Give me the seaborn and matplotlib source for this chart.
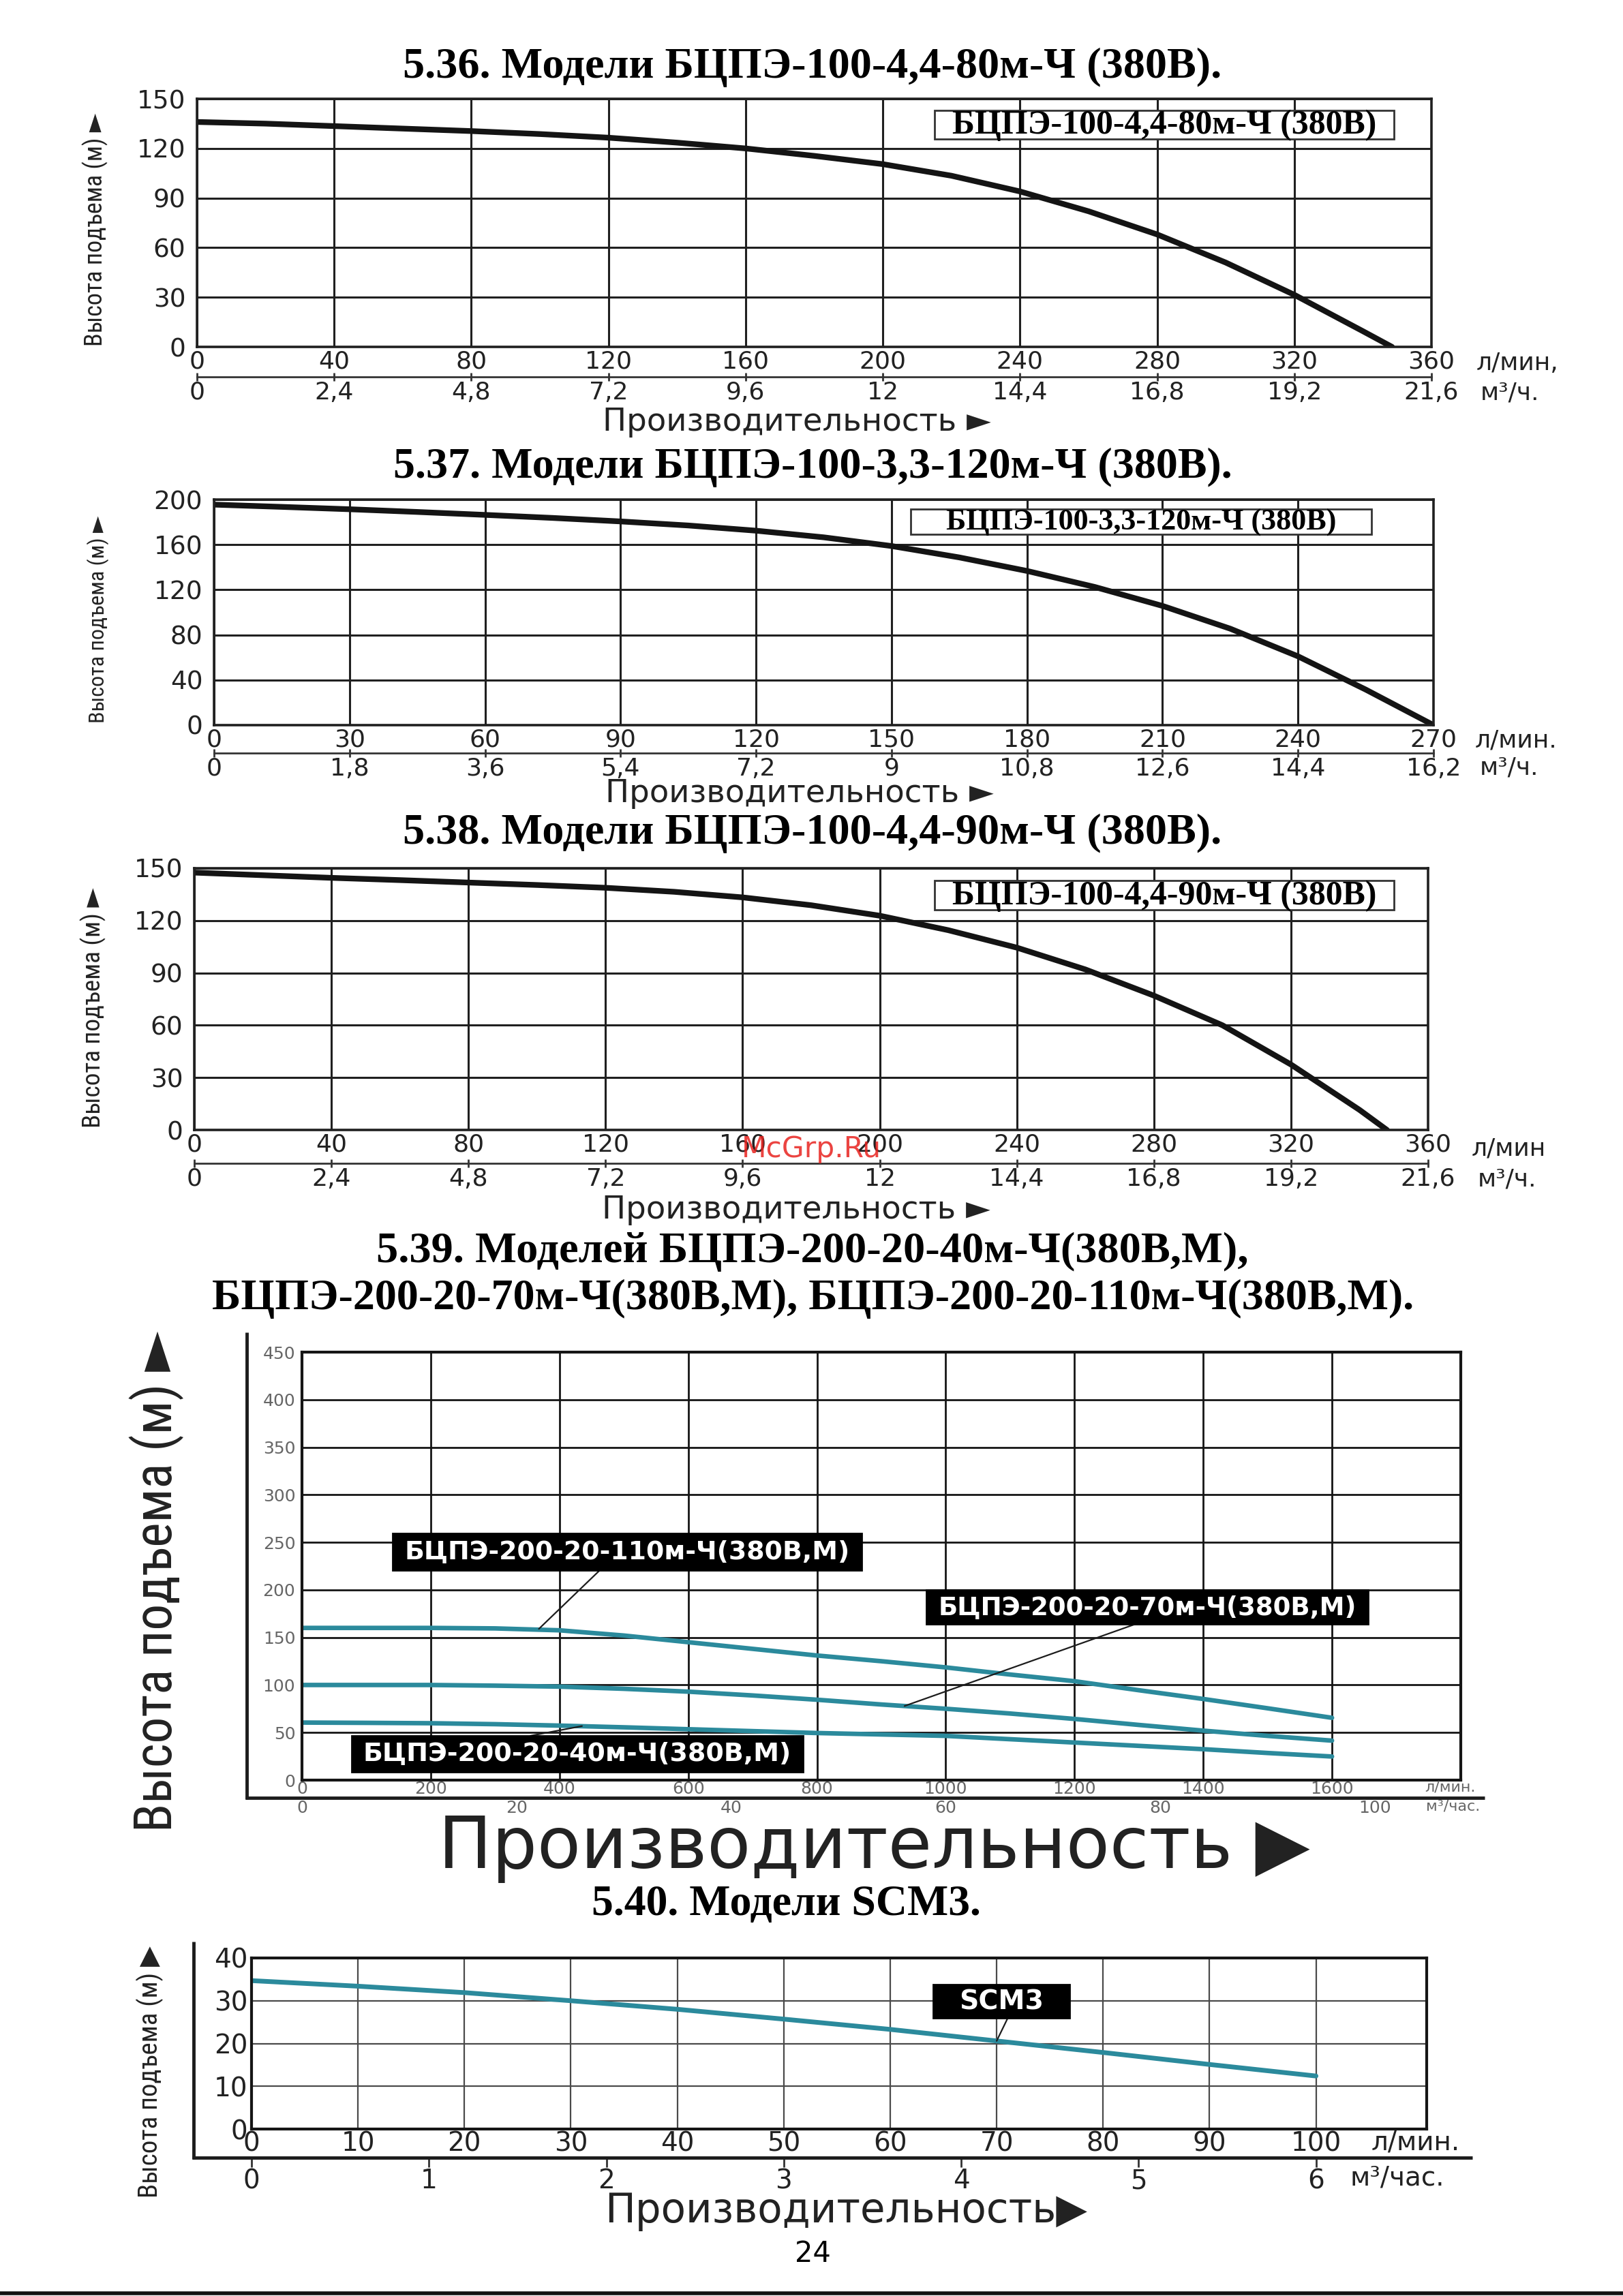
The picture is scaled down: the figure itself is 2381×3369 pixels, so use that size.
"""
Pump head curves page (5.36 - 5.40), recreated with seaborn / matplotlib.
Saves out.png (2381 x 3369 px).
"""

import matplotlib
matplotlib.use("Agg")
import matplotlib.pyplot as plt
from matplotlib import font_manager
from matplotlib.lines import Line2D
from matplotlib.patches import Rectangle
import numpy as np
import pandas as pd
import seaborn as sns

sns.set_theme(style="white")
plt.rcParams["font.family"] = ["DejaVu Sans"]

W, H = 2381, 3369
SERIF = "Liberation Serif"
TEAL = "#2b8a9c"
INK = "#1c1c1c"

# a narrow sans for the rotated axis titles, if one is installed
_entries = font_manager.fontManager.ttflist
_names = {f.name for f in _entries}
NARROW_FAMILY = "DejaVu Sans"
NARROW_STRETCH = "normal"
for _cand in ["Liberation Sans Narrow", "Roboto Condensed", "Open Sans Condensed",
              "Noto Sans Condensed", "DejaVu Sans Condensed"]:
    if _cand in _names:
        NARROW_FAMILY = _cand
        break
else:
    _cond = [f for f in _entries if f.stretch in ("condensed", "semi-condensed", "extra-condensed")
             and f.style == "normal" and f.name in ("Roboto", "Open Sans", "Noto Sans", "DejaVu Sans", "Lato", "Inter")]
    if _cond:
        NARROW_FAMILY = _cond[0].name
        NARROW_STRETCH = _cond[0].stretch
NARROW = [NARROW_FAMILY, "DejaVu Sans"]

# ---------------- data ----------------
# 5.36  БЦПЭ-100-4,4-80м-Ч
flow_536 = [0, 20, 40, 60, 80, 100, 120, 140, 160, 180, 200, 220, 240, 260, 280, 300, 320, 340, 348.5]
head_536 = [136, 135, 133.5, 132, 130.5, 128.7, 126.5, 123.5, 120, 115.5, 110.5, 103.5, 94, 82, 68, 51, 31.5, 9.5, 0]
lpm_ticks_536 = [0, 40, 80, 120, 160, 200, 240, 280, 320, 360]
m3_ticks_536 = [0, 2.4, 4.8, 7.2, 9.6, 12, 14.4, 16.8, 19.2, 21.6]
head_ticks_536 = [0, 30, 60, 90, 120, 150]

# 5.37  БЦПЭ-100-3,3-120м-Ч
flow_537 = [0, 15, 30, 45, 60, 75, 90, 105, 120, 135, 150, 165, 180, 195, 210, 225, 240, 255, 270]
head_537 = [195.5, 193.5, 191.4, 189, 186.4, 183.7, 180.6, 177, 172.4, 166.5, 158.8, 148.7, 136.7, 122.5, 105.7, 85.5, 61, 31.5, 0]
lpm_ticks_537 = [0, 30, 60, 90, 120, 150, 180, 210, 240, 270]
m3_ticks_537 = [0, 1.8, 3.6, 5.4, 7.2, 9, 10.8, 12.6, 14.4, 16.2]
head_ticks_537 = [0, 40, 80, 120, 160, 200]

# 5.38  БЦПЭ-100-4,4-90м-Ч
flow_538 = [0, 20, 40, 60, 80, 100, 120, 140, 160, 180, 200, 220, 240, 260, 280, 300, 320, 340, 348]
head_538 = [147.5, 146, 144.5, 143.2, 141.8, 140.4, 138.8, 136.5, 133.3, 128.8, 122.8, 114.5, 104.5, 92, 77, 60, 37.5, 11.5, 0]
lpm_ticks_538 = [0, 40, 80, 120, 160, 200, 240, 280, 320, 360]
m3_ticks_538 = [0, 2.4, 4.8, 7.2, 9.6, 12, 14.4, 16.8, 19.2, 21.6]
head_ticks_538 = [0, 30, 60, 90, 120, 150]

# 5.39  БЦПЭ-200-20-...
flow_539 = [0, 100, 200, 300, 400, 500, 600, 700, 800, 900, 1000, 1100, 1200, 1300, 1400, 1500, 1600]
head_539_110 = [160, 160, 160, 159.5, 157.5, 152, 145, 138, 131, 125, 118.5, 111, 104, 94.5, 85.3, 75.5, 65.5]
head_539_70 = [100, 100, 100, 99.3, 98.3, 96, 93, 89, 84.5, 79.5, 75, 70, 64.3, 58, 52, 46.5, 41.5]
head_539_40 = [60.5, 60.2, 59.8, 58.8, 57.3, 55.5, 53.5, 51.5, 49.5, 48, 46.5, 43, 39.5, 36, 32.5, 28.5, 24.8]
lpm_ticks_539 = [0, 200, 400, 600, 800, 1000, 1200, 1400, 1600]
m3_ticks_539 = [0, 20, 40, 60, 80, 100]
head_ticks_539 = [0, 50, 100, 150, 200, 250, 300, 350, 400, 450]

# 5.40  SCM3
flow_540 = [0, 10, 20, 30, 40, 50, 60, 70, 80, 90, 100]
head_540 = [34.7, 33.4, 31.9, 30, 28, 25.7, 23.3, 20.6, 17.9, 15.1, 12.4]
lpm_ticks_540 = [0, 10, 20, 30, 40, 50, 60, 70, 80, 90, 100]
m3_ticks_540 = [0, 1, 2, 3, 4, 5, 6]
head_ticks_540 = [0, 10, 20, 30, 40]

fig = plt.figure(figsize=(W / 100, H / 100), dpi=100)
fig.patch.set_facecolor("white")
renderer = fig.canvas.get_renderer()


# ---------------- helpers ----------------
def rect(l, t, r, b):
    return [l / W, 1 - b / H, (r - l) / W, (b - t) / H]


def fx(x):
    return x / W


def fy(y):
    return 1 - y / H


def comma(v):
    return f"{v:g}".replace(".", ",")


def to_m3(v):
    return np.round(np.asarray(v, dtype=float) * 0.06, 9)


def to_lpm(v):
    return np.round(np.asarray(v, dtype=float) / 0.06, 9)


def ftext(x, y, s, **kw):
    kw.setdefault("ha", "center")
    kw.setdefault("va", "center")
    return fig.text(fx(x), fy(y), s, **kw)


def fit(t, width=None, height=None):
    bb = t.get_window_extent(renderer)
    k = []
    if width:
        k.append(width / bb.width)
    if height:
        k.append(height / bb.height)
    t.set_fontsize(t.get_fontsize() * min(k))
    return t


def fline(x1, y1, x2, y2, lw=3.5, color=INK):
    fig.add_artist(Line2D([fx(x1), fx(x2)], [fy(y1), fy(y2)], transform=fig.transFigure,
                          lw=lw, color=color, solid_capstyle="butt"))


def box_label(box, s, fc, tc, family, fill=0.92, ec=None, hfill=1.08):
    l, t, r, b = box
    fig.add_artist(Rectangle((fx(l), fy(b)), (r - l) / W, (b - t) / H, transform=fig.transFigure,
                             fc=fc, ec=ec or fc, lw=2, zorder=5))
    txt = ftext((l + r) / 2, (t + b) / 2 + 1, s, color=tc, family=family, weight="bold",
                fontsize=20, zorder=6)
    fit(txt, width=(r - l) * fill, height=(b - t) * hfill)
    return txt


def leader(ax, x_px, y_px, xd, yd):
    ax.annotate("", xy=(xd, yd), xycoords="data", xytext=(fx(x_px), fy(y_px)),
                textcoords="figure fraction",
                arrowprops=dict(arrowstyle="-", lw=1.6, color=INK, shrinkA=0, shrinkB=0))


def classic_chart(pos, sep_y, flow, head, lpm_ticks, m3_ticks, head_ticks):
    l, t, r, b = pos
    ax = fig.add_axes(rect(l, t, r, b))
    ax.set_axisbelow(True)
    sns.lineplot(x=flow, y=head, ax=ax, color="#141414", linewidth=6)
    ax.set_xlim(lpm_ticks[0], lpm_ticks[-1])
    ax.set_ylim(head_ticks[0], head_ticks[-1])
    ax.set_xticks(lpm_ticks)
    ax.set_yticks(head_ticks)
    ax.set_xlabel("")
    ax.set_ylabel("")
    ax.grid(True, color="#202020", lw=2.2)
    for sp in ax.spines.values():
        sp.set_visible(True)
        sp.set_color("#202020")
        sp.set_linewidth(2.6)
    ax.tick_params(axis="x", length=0, labelsize=26, pad=3, labelcolor="#222")
    ax.tick_params(axis="y", length=0, labelsize=27, pad=12, labelcolor="#222")
    sec = ax.secondary_xaxis(-(sep_y - b) / (b - t), functions=(to_m3, to_lpm))
    sec.set_xticks(m3_ticks, labels=[comma(v) for v in m3_ticks])
    sec.spines["bottom"].set_linewidth(2)
    sec.spines["bottom"].set_color("#333")
    sec.tick_params(direction="inout", length=8, width=2, labelsize=26, pad=0,
                    color="#333", labelcolor="#222")
    return ax


def head_label(x, y, length, s="Высота подъема (м) ►"):
    t = ftext(x, y, s, rotation=90, fontsize=20, color="#222", family=NARROW,
              fontstretch=NARROW_STRETCH)
    fit(t, height=length)
    return t


def flow_label(x, y, width, s="Производительность ►", height=None):
    t = ftext(x, y, s, fontsize=20, color="#222")
    fit(t, width=width, height=height)
    return t


def title(x, y, width, s):
    t = ftext(x, y, s, family=SERIF, weight="bold", fontsize=30, color="black")
    fit(t, width=width)
    return t


# ---------------- 5.36 ----------------
title(1192, 99, 1200, "5.36. Модели БЦПЭ-100-4,4-80м-Ч (380В).")
ax1 = classic_chart((289, 145, 2100, 509), 553, flow_536, head_536,
                    lpm_ticks_536, m3_ticks_536, head_ticks_536)
head_label(140, 337, 342)
flow_label(1169, 620, 653, height=47)
ftext(2166, 533, "л/мин,", ha="left", fontsize=26, color="#222")
ftext(2172, 577, "м³/ч.", ha="left", fontsize=26, color="#222")
box_label((1371, 162, 2045, 204), "БЦПЭ-100-4,4-80м-Ч (380В)", "white", "black", SERIF, ec="#333")

# ---------------- 5.37 ----------------
title(1192, 686, 1230, "5.37. Модели БЦПЭ-100-3,3-120м-Ч (380В).")
ax2 = classic_chart((314, 733, 2103, 1064), 1105, flow_537, head_537,
                    lpm_ticks_537, m3_ticks_537, head_ticks_537)
head_label(144, 909, 304)
flow_label(1173, 1165, 660, height=47)
ftext(2164, 1087, "л/мин.", ha="left", fontsize=26, color="#222")
ftext(2171, 1127, "м³/ч.", ha="left", fontsize=26, color="#222")
box_label((1336, 747, 2012, 784), "БЦПЭ-100-3,3-120м-Ч (380В)", "white", "black", SERIF, ec="#333")

# ---------------- 5.38 ----------------
title(1192, 1223, 1200, "5.38. Модели БЦПЭ-100-4,4-90м-Ч (380В).")
ax3 = classic_chart((285, 1274, 2095, 1658), 1707, flow_538, head_538,
                    lpm_ticks_538, m3_ticks_538, head_ticks_538)
head_label(137, 1479, 352)
flow_label(1168, 1775, 656, height=47)
ftext(2159, 1686, "л/мин", ha="left", fontsize=26, color="#222")
ftext(2168, 1730, "м³/ч.", ha="left", fontsize=26, color="#222")
box_label((1371, 1292, 2045, 1335), "БЦПЭ-100-4,4-90м-Ч (380В)", "white", "black", SERIF, ec="#333")
# site watermark printed over the tick labels in the scan
wm = ftext(1190, 1686, "McGrp.Ru", color="#e8231f", alpha=0.85, fontsize=20, zorder=7)
fit(wm, width=205)

# ---------------- 5.39 ----------------
title(1192, 1837, 1277, "5.39. Моделей БЦПЭ-200-20-40м-Ч(380В,М),")
title(1193, 1906, 1762, "БЦПЭ-200-20-70м-Ч(380В,М), БЦПЭ-200-20-110м-Ч(380В,М).")

fline(362, 1955, 362, 2640)
fline(360, 2638, 2178, 2638)

ax4 = fig.add_axes(rect(443, 1984, 2143, 2612))
ax4.set_axisbelow(True)
n = len(flow_539)
df_539 = pd.DataFrame({
    "flow": flow_539 * 3,
    "head": head_539_110 + head_539_70 + head_539_40,
    "model": ["110м"] * n + ["70м"] * n + ["40м"] * n,
})
sns.lineplot(data=df_539, x="flow", y="head", hue="model", palette=[TEAL] * 3,
             linewidth=4.8, legend=False, ax=ax4)
ax4.set_xlim(0, 1800)
ax4.set_ylim(0, 450)
ax4.set_xticks(lpm_ticks_539)
ax4.set_yticks(head_ticks_539)
ax4.set_xlabel("")
ax4.set_ylabel("")
ax4.grid(True, color="#151515", lw=2)
for sp in ax4.spines.values():
    sp.set_visible(True)
    sp.set_color("#151515")
    sp.set_linewidth(3)
ax4.tick_params(axis="x", length=0, labelsize=18, pad=1, labelcolor="#666")
ax4.tick_params(axis="y", length=0, labelsize=18, pad=7, labelcolor="#666")
sec4 = ax4.secondary_xaxis(-(2638 - 2612) / (2612 - 1984), functions=(to_m3, to_lpm))
sec4.set_xticks(m3_ticks_539, labels=[comma(v) for v in m3_ticks_539])
sec4.spines["bottom"].set_visible(False)
sec4.tick_params(length=0, labelsize=18, pad=2, labelcolor="#666")
ftext(2127, 2622, "л/мин.", fontsize=16, color="#666")
ftext(2132, 2651, "м³/час.", fontsize=16, color="#666")

head_label(230, 2320, 735, s="Высота подъема (м) ►")
flow_label(1282, 2712, 1274, s="Производительность ▶")

box_label((576, 2250, 1264, 2304), "БЦПЭ-200-20-110м-Ч(380В,М)", "black", "white", "DejaVu Sans", fill=0.95)
box_label((1359, 2333, 2007, 2383), "БЦПЭ-200-20-70м-Ч(380В,М)", "black", "white", "DejaVu Sans", fill=0.95)
box_label((516, 2547, 1178, 2600), "БЦПЭ-200-20-40м-Ч(380В,М)", "black", "white", "DejaVu Sans", fill=0.95)
leader(ax4, 880, 2304, 368, 159)
leader(ax4, 1666, 2383, 936, 77.9)
leader(ax4, 778, 2547, 435, 56.8)

# ---------------- 5.40 ----------------
title(1153, 2795, 571, "5.40. Модели SCM3.")

fline(284, 2849, 284, 3168)
fline(282, 3166, 2160, 3166)

ax5 = fig.add_axes(rect(369, 2873, 2093, 3124))
ax5.set_axisbelow(True)
sns.lineplot(x=flow_540, y=head_540, ax=ax5, color=TEAL, linewidth=5)
ax5.set_xlim(0, 110.4)
ax5.set_ylim(0, 40)
ax5.set_xticks(lpm_ticks_540)
ax5.set_yticks(head_ticks_540)
ax5.set_xlabel("")
ax5.set_ylabel("")
ax5.grid(True, color="#4a4a4a", lw=1.6)
for sp in ax5.spines.values():
    sp.set_visible(True)
    sp.set_color("#151515")
    sp.set_linewidth(3)
ax5.tick_params(axis="x", length=0, labelsize=28, pad=2, labelcolor="#222")
ax5.tick_params(axis="y", length=0, labelsize=28, pad=4, labelcolor="#222")
sec5 = ax5.secondary_xaxis(-(3166 - 3124) / (3124 - 2873), functions=(to_m3, to_lpm))
sec5.set_xticks(m3_ticks_540, labels=[comma(v) for v in m3_ticks_540])
sec5.spines["bottom"].set_visible(False)
sec5.tick_params(direction="out", length=10, width=2, color="#333", labelsize=28, pad=1,
                 labelcolor="#222")
ftext(2012, 3143, "л/мин.", ha="left", fontsize=28, color="#222")
ftext(1980, 3195, "м³/час.", ha="left", fontsize=28, color="#222")

head_label(220, 3040, 369, s="Высота подъема (м) ▶")
flow_label(1241, 3244, 797, s="Производительность▶", height=60)
box_label((1369, 2912, 1569, 2961), "SCM3", "black", "white", "DejaVu Sans", fill=0.62)
leader(ax5, 1478, 2962, 70, 20.6)

# page footer
ftext(1192, 3307, "24", fontsize=30, color="black")
fline(0, 3365, W, 3365, lw=4, color="#111")

fig.savefig("out.png", dpi=100, facecolor="white")
print("Saved out.png")
